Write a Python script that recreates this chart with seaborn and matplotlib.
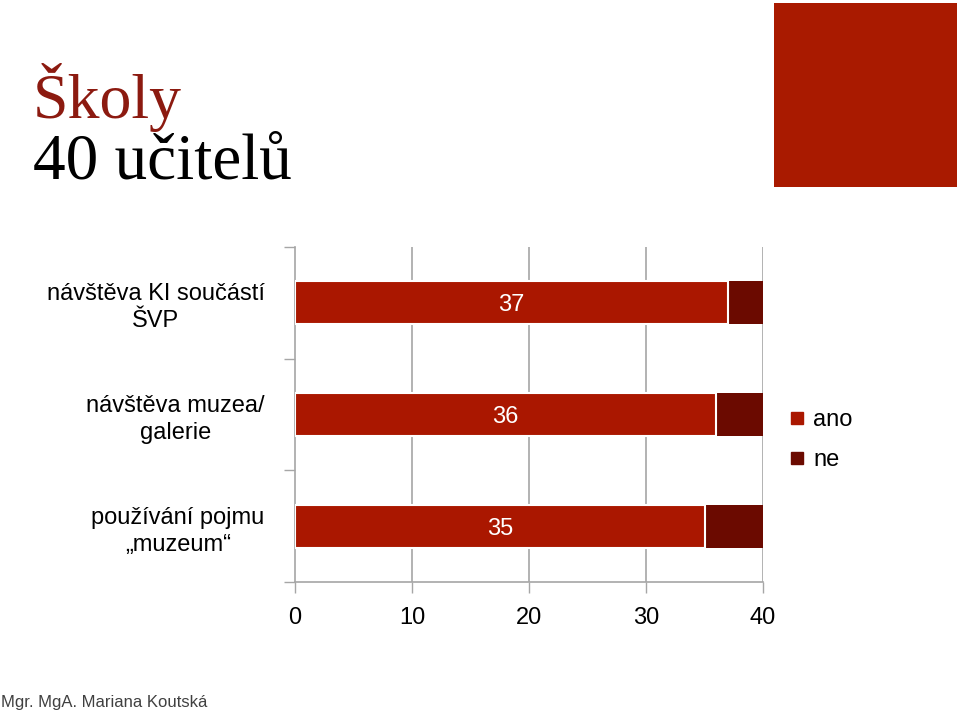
import matplotlib
matplotlib.use("Agg")
import matplotlib.pyplot as plt
import seaborn as sns
import pandas as pd
from matplotlib.patches import Rectangle
from matplotlib.lines import Line2D

categories = ["návštěva KI součástí\nŠVP", "návštěva muzea/\ngalerie", "používání pojmu\n„muzeum“"]
ano = [37, 36, 35]
ne = [3, 4, 5]
xticks = [0, 10, 20, 30, 40]
series_names = ["ano", "ne"]

ANO_C = "#AA1700"
NE_C = "#6B0A00"
GRID_C = "#A6A6A6"

sns.set_theme(style="white")
plt.rcParams["font.family"] = ["Liberation Sans", "DejaVu Sans"]
plt.rcParams["text.color"] = "black"

df = pd.DataFrame({"kat": categories, "ano": ano, "ne": ne})
df["celkem"] = df["ano"] + df["ne"]

fig = plt.figure(figsize=(9.6, 7.13), dpi=100)
ax = fig.add_axes([295/960, 1-582/713, (763-295)/960, (582-247)/713])

sns.barplot(data=df, y="kat", x="celkem", orient="h", color=NE_C, saturation=1,
            width=0.385, ax=ax, edgecolor="none", zorder=3)
sns.barplot(data=df, y="kat", x="ano", orient="h", color=ANO_C, saturation=1,
            width=0.385, ax=ax, edgecolor="white", linewidth=1.5, zorder=4)

ax.set_xlim(0, 40)
ax.set_ylim(2.5, -0.5)
ax.set_xlabel("")
ax.set_ylabel("")
ax.set_xticks(xticks)
ax.set_xticklabels([str(t) for t in xticks], fontsize=17)
ax.tick_params(axis="x", which="major", direction="out", length=8, width=1,
               color=GRID_C, pad=10, labelcolor="black", bottom=True)
ax.set_yticks(range(len(categories)))
ax.set_yticklabels(categories, fontsize=17, multialignment="center", linespacing=1.3)
ax.tick_params(axis="y", which="major", length=0, pad=22, labelcolor="black")
ax.set_yticks([-0.5, 0.5, 1.5, 2.5], minor=True)
ax.tick_params(axis="y", which="minor", direction="out", length=8, width=1,
               color=GRID_C, left=True)

for t in xticks[1:]:
    ax.axvline(t, color=GRID_C, lw=1.2, zorder=1)

for s in ["top", "right"]:
    ax.spines[s].set_visible(False)
for s in ["left", "bottom"]:
    ax.spines[s].set_color(GRID_C)
    ax.spines[s].set_linewidth(1.2)

for i, v in enumerate(ano):
    ax.text(v/2, i, str(v), ha="center", va="center_baseline", color="white",
            fontsize=17, zorder=5)

handles = [Line2D([0], [0], marker="s", linestyle="none", markersize=9,
                  markerfacecolor=c, markeredgecolor=c) for c in (ANO_C, NE_C)]
fig.legend(handles, series_names, loc="center left", bbox_to_anchor=(767/960, 1-440/713),
           frameon=False, fontsize=17, handlelength=0.7, handletextpad=0.35,
           labelspacing=0.75, labelcolor="black")

fig.text(33/960, 1-98/713, "Školy", fontsize=46, color="#8C1A10",
         family=["Liberation Serif", "DejaVu Serif"], ha="left", va="center")
fig.text(33/960, 1-163/713, "40 učitelů", fontsize=47, color="black",
         family=["Liberation Serif", "DejaVu Serif"], ha="left", va="center")

fig.add_artist(Rectangle((774/960, 1-187/713), (957-774)/960, (187-3)/713,
                         transform=fig.transFigure, facecolor="#A91A00", edgecolor="none"))

fig.text(1/960, 1-703/713, "Mgr. MgA. Mariana Koutská", fontsize=12, color="#404040",
         family=["Liberation Sans Narrow", "Liberation Sans", "DejaVu Sans"],
         ha="left", va="center")

fig.savefig("out.png", dpi=100, facecolor="white")
